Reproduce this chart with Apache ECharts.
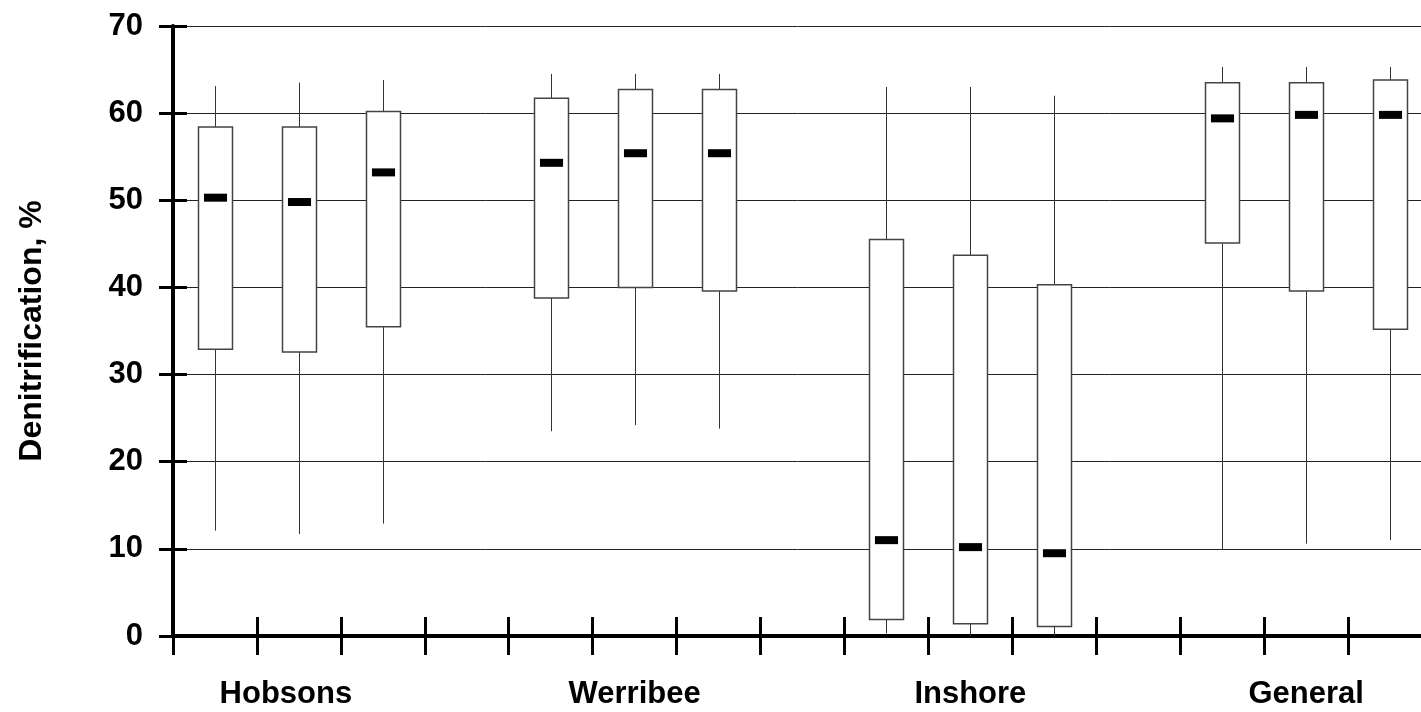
<!DOCTYPE html>
<html>
<head>
<meta charset="utf-8">
<script src="https://cdn.jsdelivr.net/npm/echarts@6/dist/echarts.min.js"></script>
<style>
html,body{margin:0;padding:0;background:#fff;}
#chart{width:1421px;height:712px;}
</style>
</head>
<body>
<div id="chart"></div>
<script>
// Category slots along the x axis (15 slots, one empty slot after each group)
const slotLabels = ['', 'Hobsons', '', '', '', 'Werribee', '', '', '', 'Inshore', '', '', '', 'General', ''];
// Slot index of each box
const boxSlot     = [0, 1, 2, 4, 5, 6, 8, 9, 10, 12, 13, 14];
// Box statistics
const whiskerLow  = [12.1, 11.7, 12.9, 23.5, 24.2, 23.8, 0.3, 0.0, 0.0, 9.9, 10.6, 11.0];
const quartile1   = [32.9, 32.6, 35.5, 38.8, 40.0, 39.6, 1.9, 1.4, 1.1, 45.1, 39.6, 35.2];
const median      = [50.3, 49.8, 53.2, 54.3, 55.4, 55.4, 11.0, 10.2, 9.5, 59.4, 59.8, 59.8];
const quartile3   = [58.4, 58.4, 60.2, 61.7, 62.7, 62.7, 45.5, 43.7, 40.3, 63.5, 63.5, 63.8];
const whiskerHigh = [63.1, 63.5, 63.8, 64.5, 64.5, 64.5, 63.0, 63.0, 62.0, 65.3, 65.3, 65.3];
const yTicks = [0, 10, 20, 30, 40, 50, 60, 70];

const data = boxSlot.map((s, i) => [s, whiskerLow[i], quartile1[i], median[i], quartile3[i], whiskerHigh[i]]);

const FONT = 'Liberation Sans, Arial, sans-serif';
const chart = echarts.init(document.getElementById('chart'));

const xCommon = {
  type: 'category',
  data: slotLabels.map((v, i) => i === 1 ? {value: v, textStyle: {padding: [0, 26, 0, 0]}} : v),
  position: 'bottom',
  boundaryGap: true
};
const yCommon = {
  type: 'value',
  min: yTicks[0],
  max: yTicks[yTicks.length - 1],
  interval: 10,
  position: 'left'
};

chart.setOption({
  animation: false,
  backgroundColor: '#fff',
  grid: {left: 173, width: 1259, top: 26, bottom: 76, containLabel: false, outerBoundsMode: 'none'},
  xAxis: [
    Object.assign({}, xCommon, {
      axisLine: {show: true, onZero: false, lineStyle: {color: '#000', width: 4}},
      axisTick: {show: true, inside: false, length: 19, interval: 0, alignWithLabel: false, lineStyle: {color: '#000', width: 3}},
      axisLabel: {show: true, interval: 0, margin: 43, color: '#000', fontFamily: FONT, fontWeight: 'bold', fontSize: 31},
      splitLine: {show: false}
    }),
    Object.assign({}, xCommon, {
      axisLine: {show: false},
      axisTick: {show: true, inside: true, length: 19, interval: 0, lineStyle: {color: '#000', width: 3}},
      axisLabel: {show: false},
      splitLine: {show: false}
    })
  ],
  yAxis: [
    Object.assign({}, yCommon, {
      name: 'Denitrification, %',
      nameLocation: 'middle',
      nameGap: 125,
      nameRotate: 90,
      nameTextStyle: {color: '#000', fontFamily: FONT, fontWeight: 'bold', fontSize: 32},
      axisLine: {show: true, lineStyle: {color: '#000', width: 4}},
      axisTick: {show: true, inside: false, length: 14, lineStyle: {color: '#000', width: 3}},
      axisLabel: {show: true, margin: 30, color: '#000', fontFamily: FONT, fontWeight: 'bold', fontSize: 31},
      splitLine: {show: true, lineStyle: {color: '#222', width: 1}}
    }),
    Object.assign({}, yCommon, {
      axisLine: {show: false},
      axisTick: {show: true, inside: true, length: 14, lineStyle: {color: '#000', width: 3}},
      axisLabel: {show: false},
      splitLine: {show: false}
    })
  ],
  series: [{
    type: 'custom',
    xAxisIndex: 0,
    yAxisIndex: 0,
    clip: false,
    data: data,
    encode: {x: 0, y: [1, 2, 3, 4, 5]},
    renderItem: function (params, api) {
      const x = api.value(0);
      const lo = api.coord([x, api.value(1)]);
      const q1 = api.coord([x, api.value(2)]);
      const md = api.coord([x, api.value(3)]);
      const q3 = api.coord([x, api.value(4)]);
      const hi = api.coord([x, api.value(5)]);
      const band = api.size([1, 0])[0];
      const bw = band * 0.405;
      const mw = band * 0.275;
      const cx = Math.round(lo[0]) + 0.5;
      return {
        type: 'group',
        children: [
          {type: 'line', shape: {x1: cx, y1: lo[1], x2: cx, y2: q1[1]}, style: {stroke: '#333', lineWidth: 1}},
          {type: 'line', shape: {x1: cx, y1: q3[1], x2: cx, y2: hi[1]}, style: {stroke: '#333', lineWidth: 1}},
          {type: 'rect', shape: {x: cx - bw / 2, y: q3[1], width: bw, height: q1[1] - q3[1]}, style: {fill: '#fff', stroke: '#444', lineWidth: 1.5}},
          {type: 'rect', shape: {x: cx - mw / 2, y: md[1] - 4, width: mw, height: 8}, style: {fill: '#000'}}
        ]
      };
    }
  }]
});
</script>
</body>
</html>
